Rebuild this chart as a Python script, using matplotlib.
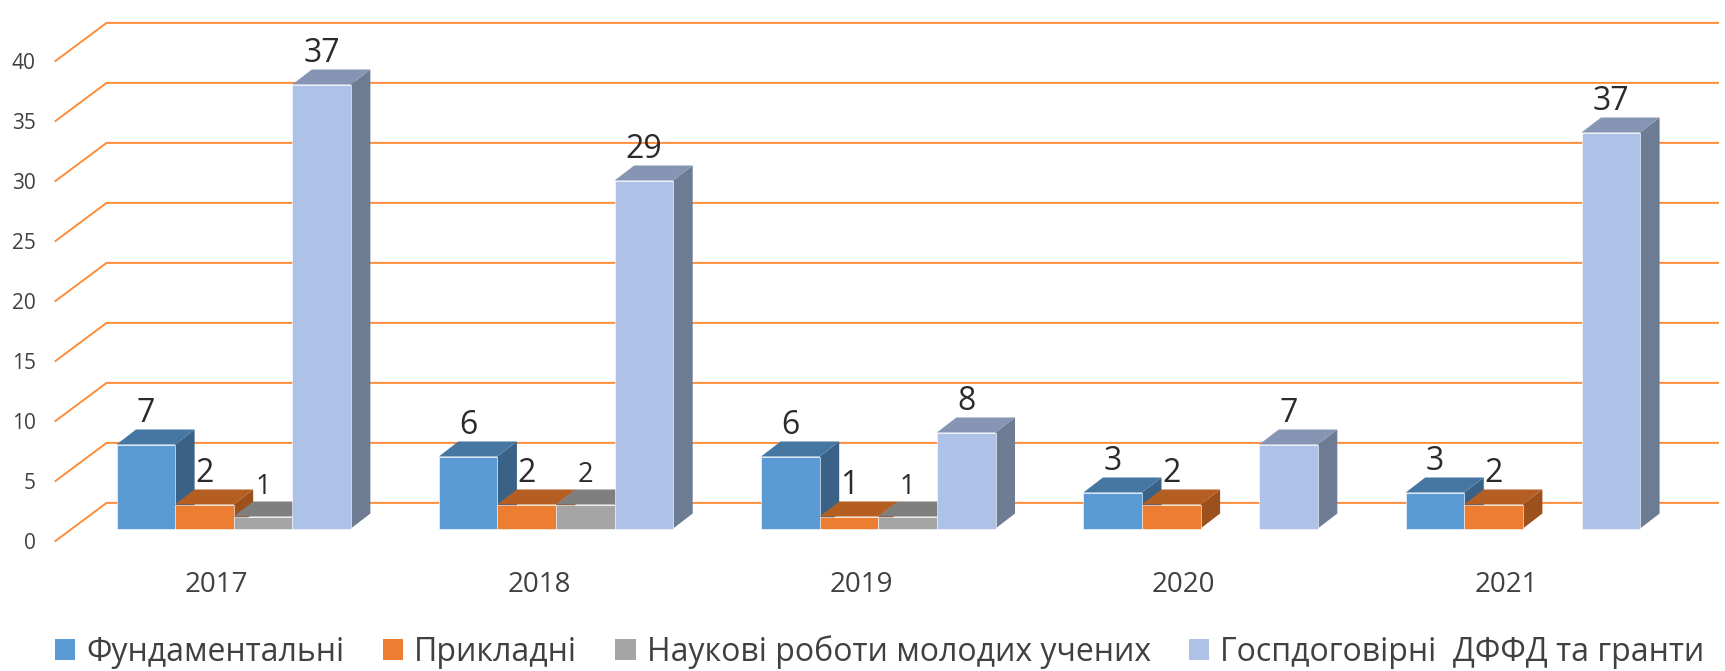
import matplotlib.pyplot as plt
from matplotlib.patches import Polygon, Patch

# data
years = ['2017', '2018', '2019', '2020', '2021']
series_names = ['Фундаментальні', 'Прикладні', 'Наукові роботи молодих учених',
                'Госпдоговірні  ДФФД та гранти']
fundamental = [7, 6, 6, 3, 3]
applied = [2, 2, 1, 2, 2]
young = [1, 2, 1, 0, 0]
contracts = [37, 29, 8, 7, 33]          # drawn height of the bars
contracts_labels = ['37', '29', '8', '7', '37']  # labels as printed on the chart
y_ticks = [0, 5, 10, 15, 20, 25, 30, 35, 40]

front_colors = ['#5B9BD5', '#ED7D31', '#A5A5A5', '#AEC1E7']
top_colors = ['#4677A3', '#B55E22', '#7F7F7F', '#8595B3']
side_colors = ['#3A6286', '#9C501C', '#6E6E6E', '#6E7C93']
grid_color = '#FF8C3A'
text_color = '#404040'
label_color = '#2B2B2B'

plt.rcParams['font.family'] = ['Open Sans', 'DejaVu Sans']

W, H = 1725, 671
px_x, px_y = 58.6, 12.0          # pixels per bar slot / per unit of value
x_origin, y_origin = 116.5, 528.5  # pixel position of first bar base
group_step = 5.5
n_series = 4

fig = plt.figure(figsize=(W / 100, H / 100), dpi=100)
ax = fig.add_axes([0, 0, 1, 1])
ax.set_xlim(-x_origin / px_x, (W - x_origin) / px_x)
ax.set_ylim((y_origin - H) / px_y, y_origin / px_y)
ax.axis('off')

# 3D offsets (in data units)
ddx, ddy = 19.5 / px_x, 15 / px_y      # bar depth
fx, fy = -17 / px_x, -12.4 / px_y      # floor front edge relative to bar plane
bx, by = 34 / px_x, 25.6 / px_y        # back wall relative to bar plane

floor_left = -0.75
floor_right = len(years) * group_step - 0.75

# gridlines on back wall + left wall diagonals
for v in y_ticks:
    ax.plot([floor_left + fx, floor_left + bx, floor_right + bx],
            [v + fy, v + by, v + by], color=grid_color, lw=1.4,
            solid_joinstyle='miter', zorder=1)
    ax.text(-1.38, v + fy, str(v), ha='right', va='center_baseline',
            fontsize=15, color=text_color)

all_series = [fundamental, applied, young, contracts]
all_labels = [[str(v) for v in fundamental], [str(v) for v in applied],
              [str(v) for v in young], contracts_labels]
label_sizes = [23, 23, 19.5, 23]

z = 2
for g, year in enumerate(years):
    for s in range(n_series):
        h = all_series[s][g]
        if h == 0:
            continue
        x0 = g * group_step + s
        x1 = x0 + 1
        side = Polygon([(x1, 0), (x1 + ddx, ddy), (x1 + ddx, h + ddy), (x1, h)],
                       closed=True, facecolor=side_colors[s], edgecolor='none', zorder=z)
        top = Polygon([(x0, h), (x1, h), (x1 + ddx, h + ddy), (x0 + ddx, h + ddy)],
                      closed=True, facecolor=top_colors[s], edgecolor='none', zorder=z + 1)
        front = Polygon([(x0, 0), (x1, 0), (x1, h), (x0, h)], closed=True,
                        facecolor=front_colors[s], edgecolor='#FFFFFF', lw=0.4,
                        zorder=z + 2)
        ax.add_patch(side)
        ax.add_patch(top)
        ax.add_patch(front)
        ax.text((x0 + x1) / 2, h + ddy + 7 / px_y, all_labels[s][g], ha='center',
                va='baseline', fontsize=label_sizes[s], color=label_color, zorder=z + 3)
        z += 4
    ax.text(g * group_step + n_series / 2 + fx, -63.5 / px_y, year, ha='center',
            va='baseline', fontsize=20, color=text_color)

handles = [Patch(facecolor=c, edgecolor='none') for c in front_colors]
fig.legend(handles, series_names, loc='center left', bbox_to_anchor=(55 / W, 1 - 652 / H),
           ncol=4, frameon=False, fontsize=23, labelcolor=text_color,
           handlelength=0.63, handleheight=0.63, handletextpad=0.35,
           columnspacing=1.2, borderpad=0, borderaxespad=0)

fig.savefig('out.png', dpi=100)
